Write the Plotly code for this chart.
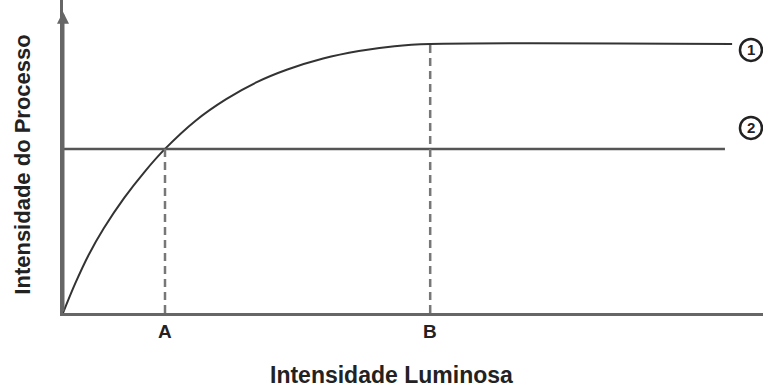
import plotly.graph_objects as go

# light intensity (x) vs process intensity (y), units: A = 1, plateau = 1
curve_x = [0, 0.12, 0.25, 0.4, 0.6, 0.8, 1.0, 1.3, 1.6, 1.9, 2.2, 2.55, 2.9, 3.25, 3.6, 6.56]
curve_y = [0, 0.11, 0.215, 0.315, 0.428, 0.525, 0.61, 0.715, 0.795, 0.858, 0.905, 0.946, 0.974, 0.992, 1.0, 1.0]
line2_x = [0, 6.49]
line2_y = [0.61, 0.61]
tick_vals = [1.0, 3.6]
tick_text = ['A', 'B']
drop_y = [0.61, 1.0]
label_text = ['1', '2']
label_pos = [(6.745, 0.978), (6.745, 0.688)]

FONT = 'Liberation Sans'

fig = go.Figure()
fig.add_trace(go.Scatter(
    x=curve_x, y=curve_y, mode='lines', line=dict(color='#333', width=2, shape='spline', smoothing=1),
    hoverinfo='skip',
))
fig.add_trace(go.Scatter(
    x=line2_x, y=line2_y, mode='lines', line=dict(color='#555', width=2.5), hoverinfo='skip',
))
for xv, yv in zip(tick_vals, drop_y):
    fig.add_trace(go.Scatter(
        x=[xv, xv], y=[0, yv], mode='lines', line=dict(color='#777', width=2.5, dash='8px,5px'),
        hoverinfo='skip',
    ))

shapes = []
annotations = []
for txt, (lx, ly) in zip(label_text, label_pos):
    shapes.append(dict(
        type='circle', xref='x', yref='y', xsizemode='pixel', ysizemode='pixel',
        xanchor=lx, yanchor=ly, x0=-11, x1=11, y0=-11, y1=11,
        line=dict(color='#222', width=2.5),
    ))
    annotations.append(dict(
        x=lx, y=ly, text=f'<b>{txt}</b>', showarrow=False,
        font=dict(family=FONT, size=15, color='#222'),
    ))

# A / B under the x axis
for xv, t in zip(tick_vals, tick_text):
    annotations.append(dict(
        x=xv, y=0, xref='x', yref='y', yanchor='top', yshift=-6, text=f'<b>{t}</b>',
        showarrow=False, font=dict(family=FONT, size=19, color='#222'),
    ))

# y axis arrowhead
annotations.append(dict(
    x=0, y=1.12, ax=0, ay=0, xref='x', yref='y', axref='x', ayref='y',
    text='', showarrow=True, arrowhead=2, arrowsize=0.8, arrowwidth=3, arrowcolor='#666',
))
annotations.append(dict(
    x=0.469, y=-0.197, xref='paper', yref='paper', xanchor='center', yanchor='middle',
    text='<b>Intensidade Luminosa</b>',
    showarrow=False, font=dict(family=FONT, size=23, color='#222'),
))
annotations.append(dict(
    x=-0.0571, y=0.474, xref='paper', yref='paper', xanchor='center', yanchor='middle',
    text='<b>Intensidade do Processo</b>',
    textangle=-90, showarrow=False, font=dict(family=FONT, size=22, color='#222'),
))

fig.update_layout(
    width=763, height=387,
    margin=dict(l=63, r=0, t=0, b=74),
    paper_bgcolor='white', plot_bgcolor='white',
    showlegend=False,
    shapes=shapes, annotations=annotations,
    xaxis=dict(
        range=[0, 6.863], showgrid=False, zeroline=False,
        showline=True, linecolor='#666', linewidth=3,
        showticklabels=False, ticks='',
    ),
    yaxis=dict(
        range=[0, 1.1636], showgrid=False, zeroline=False,
        showline=True, linecolor='#666', linewidth=3, showticklabels=False, ticks='',
    ),
)

fig.write_html("out.html", config={'displayModeBar': False},
               post_script="document.body.style.margin='0';")
